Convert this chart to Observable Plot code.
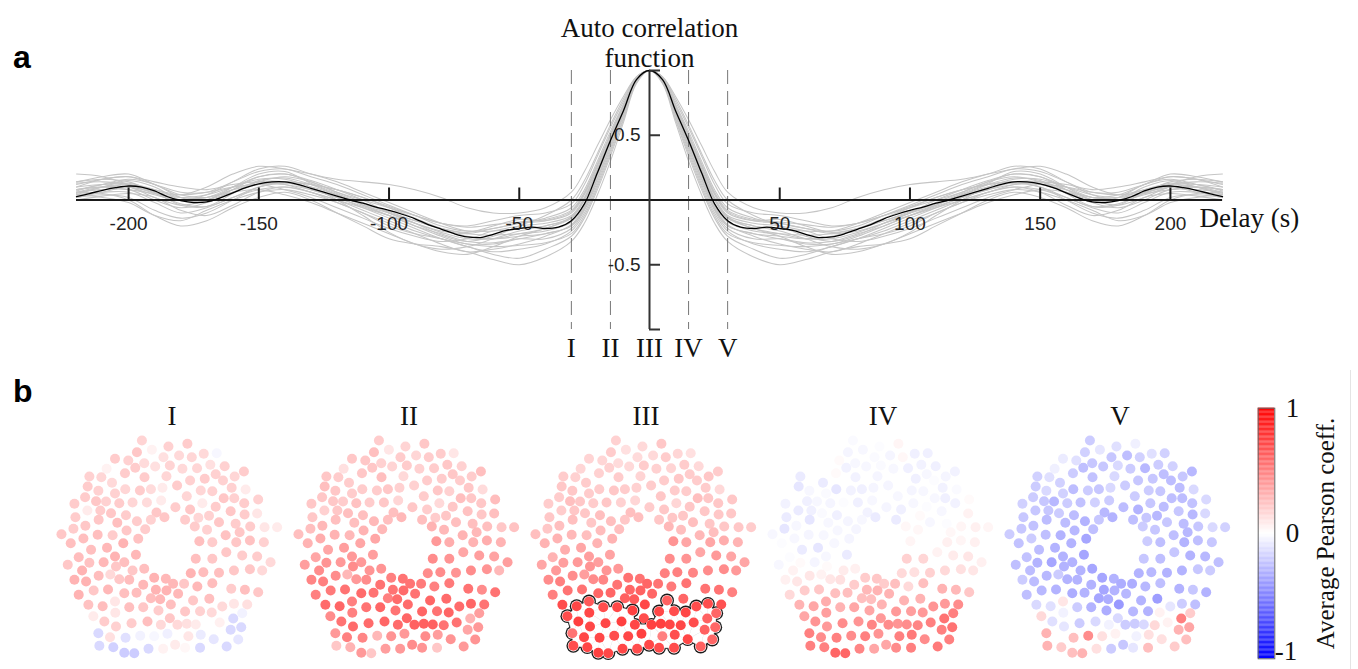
<!DOCTYPE html>
<html><head><meta charset="utf-8">
<script src="https://cdn.jsdelivr.net/npm/d3@7"></script>
<script src="https://cdn.jsdelivr.net/npm/@observablehq/plot@0.6"></script>
<style>
body{margin:0;background:#fff;}
#wrap{position:relative;width:1358px;height:669px;overflow:hidden;background:#fff;}
#wrap svg{position:absolute;}
.plab{position:absolute;font-family:"Liberation Sans",Arial,sans-serif;font-weight:bold;font-size:32px;line-height:1;color:#000;}
</style></head><body><div id="wrap"></div><script>
// ---------- Panel a data ----------
const meanLags = [0,5,10,15,20,25,30,35,40,45,50,55,60,65,70,75,80,85,90,95,100,105,110,115,120,125,130,135,140,145,150,155,160,165,170,175,180,185,190,195,200,205,210,215,220];
const meanACF = [1.0,0.93,0.69,0.46,0.21,-0.03,-0.16,-0.21,-0.22,-0.21,-0.22,-0.235,-0.265,-0.29,-0.285,-0.26,-0.225,-0.19,-0.145,-0.11,-0.08,-0.055,-0.025,0.0,0.03,0.06,0.09,0.12,0.14,0.14,0.125,0.095,0.055,0.015,-0.015,-0.02,-0.005,0.025,0.07,0.1,0.108,0.095,0.075,0.05,0.026];
const grayLags = [0,5,10,15,20,25,30,40,50,60,70,80,90,100,110,120,130,140,150,160,170,180,190,200,210,220];
const grayACF = [
 [1,.95,.78,.58,.36,.15,.0,-.12,-.2,-.28,-.32,-.27,-.18,-.1,-.02,.06,.14,.2,.18,.08,-.02,.02,.12,.16,.12,.08],
 [1,.92,.66,.4,.14,-.08,-.22,-.3,-.3,-.33,-.32,-.26,-.2,-.12,-.04,.04,.1,.13,.1,.02,-.05,-.03,.05,.1,.06,.02],
 [1,.94,.72,.5,.26,.04,-.1,-.16,-.15,-.2,-.25,-.22,-.16,-.09,-.03,.05,.13,.22,.2,.1,.0,.0,.1,.15,.1,.05],
 [1,.91,.62,.34,.08,-.14,-.28,-.38,-.45,-.42,-.36,-.3,-.26,-.2,-.1,-.02,.06,.1,.06,-.04,-.12,-.08,.02,.05,.03,.0],
 [1,.93,.7,.46,.22,.0,-.14,-.2,-.24,-.3,-.36,-.38,-.34,-.25,-.12,.0,.1,.16,.16,.1,.04,.02,.05,.08,.1,.08],
 [1,.94,.74,.53,.3,.08,-.06,-.14,-.18,-.22,-.24,-.2,-.12,-.04,.04,.12,.18,.24,.22,.14,.06,.06,.12,.18,.16,.12],
 [1,.92,.67,.42,.17,-.06,-.2,-.26,-.28,-.3,-.28,-.22,-.14,-.06,.02,.08,.12,.14,.1,.0,-.1,-.14,-.08,.02,.04,.02],
 [1,.93,.7,.47,.24,.02,-.12,-.18,-.2,-.24,-.3,-.32,-.28,-.22,-.14,-.06,.02,.08,.12,.1,.06,.04,.08,.12,.14,.13],
 [1,.95,.76,.56,.34,.12,-.03,-.1,-.12,-.16,-.2,-.18,-.12,-.06,.0,.06,.14,.18,.14,.06,-.02,-.06,.0,.08,.08,.06],
 [1,.92,.65,.38,.12,-.1,-.24,-.34,-.38,-.4,-.36,-.3,-.22,-.14,-.06,.02,.08,.12,.12,.06,.0,.0,.06,.1,.1,.08],
 [1,.93,.69,.45,.2,-.04,-.17,-.24,-.26,-.27,-.26,-.22,-.16,-.1,-.04,.04,.12,.17,.15,.05,-.05,-.04,.06,.12,.1,.04],
 [1,.94,.73,.51,.28,.06,-.08,-.15,-.17,-.19,-.21,-.18,-.12,-.05,.02,.08,.12,.14,.12,.08,.02,.04,.12,.2,.18,.14],
 [1,.91,.63,.36,.1,-.12,-.26,-.33,-.35,-.36,-.34,-.3,-.24,-.16,-.08,.0,.06,.1,.08,.02,-.06,-.1,-.02,.06,.06,.04],
 [1,.93,.71,.48,.24,.01,-.13,-.2,-.22,-.24,-.24,-.18,-.1,-.02,.06,.14,.2,.26,.24,.14,.04,.0,.06,.14,.16,.14],
 [1,.92,.68,.44,.19,-.05,-.19,-.28,-.34,-.38,-.4,-.34,-.26,-.18,-.1,-.02,.04,.08,.06,.0,-.08,-.16,-.12,-.02,.02,.04],
 [1,.94,.73,.5,.27,.05,-.09,-.16,-.18,-.22,-.26,-.24,-.18,-.12,-.06,.0,.06,.12,.14,.12,.08,.1,.14,.18,.16,.1],
 [1,.93,.7,.47,.23,.01,-.13,-.22,-.26,-.3,-.3,-.25,-.18,-.1,.0,.08,.15,.2,.18,.1,.02,.02,.08,.13,.12,.07],
 [1,.92,.67,.42,.16,-.07,-.2,-.26,-.3,-.34,-.34,-.28,-.2,-.12,-.05,.02,.08,.14,.14,.08,.0,-.04,.02,.1,.1,.06],
 [1,.95,.8,.62,.42,.22,.06,-.06,-.1,-.1,-.06,.02,.08,.12,.14,.16,.2,.24,.26,.2,.1,.04,.06,.12,.18,.2],
 [1,.9,.6,.3,.04,-.18,-.32,-.44,-.5,-.46,-.4,-.36,-.34,-.3,-.2,-.1,.0,.06,.02,-.06,-.16,-.2,-.12,.0,.05,.06],
 [1,.93,.7,.46,.22,.0,-.14,-.22,-.28,-.36,-.42,-.4,-.34,-.26,-.18,-.1,-.02,.04,.08,.06,.02,.0,.04,.1,.12,.1]
];
const xTicks = [-200,-150,-100,-50,50,100,150,200];
const yTickMarks = [1,0.5,-0.5,-1];
const yTickLabels = [0.5,-0.5];
const markerLags = [-30,-15,0,15,30];
const markerNames = ["I","II","III","IV","V"];
const titleA = "Auto correlation\nfunction";
const xLabel = "Delay (s)";

// ---------- Panel b data ----------
const panels = ["I","II","III","IV","V"];
const dotX = [92.7,138.3,119.3,102.7,87.7,65.7,79,114.3,130,142.7,
154.7,167.7,95,86,106,120.7,133.3,148,161.3,175.7,
57.3,75.7,117.3,95.3,40,52,155.7,166.7,185.7,195,
62.7,141,128,174,38.3,49,76,90.7,101.7,113.3,
151.7,163.3,182.7,196.7,65.7,35.7,46.7,56.7,70,83.3,
97.7,112,137.7,174.7,185.3,25,209.3,153.3,195.3,38,
51,61.7,76.7,107.3,126.3,141,166.7,181.7,195.7,208.3,
26,49.3,68,87.7,101.7,115.3,136,149.3,160,170,
186.7,12,24,36,48.3,63.3,77.3,96,145.7,158,
176.7,190.7,201.3,215.7,228.3,21.3,34,74,89,150.3,
163.3,187.3,201,215,41.7,57.7,65.7,86.7,29.3,18.3,
40,54.3,75,66.7,146.7,163.3,177.3,193.3,208.3,221.7,
32.7,49.3,61,83.3,95,70,80,141.7,154.3,170,
185,201,213.3,25,36.7,105,116.7,124,94,135,
148.3,163.3,182.3,196,209.3,29.3,44.3,58.7,75,87.3,
106.7,117.3,129,101.7,111,144,160.3,39,53.3,65.7,
80,94,109.3,121.7,136,151,162.7,173.3,185,198.3,
44,66,193.3,55,66.7,82.3,98.3,111.7,120.7,128.3,
137.7,146.7,157.7,170.7,184.3,49,60.7,76.3,91,105,
118.3,139.3,151.7,164.7,181.7,192.3,50,64,75,85,
99.3,114,126,136,151,177.7,189.3];
const dotY = [10,13.3,16,19.3,21.7,28.3,30,26.7,25,26.7,
23.3,22.7,32.7,37.3,36,35,38.3,37.7,34.3,35.7,
38.3,42.7,45.7,46.7,46,46.7,48.3,43.7,46,41,
52.3,50,55,50,56,60.3,58.7,60,58.7,57.3,
60,60.7,57.3,59,63,66.7,70.7,71,72.7,72,
72,70,65.7,67.7,67.7,73.3,69,72.7,72.7,80,
80,82.7,84.7,82,76.7,79,76.3,80.7,84,83,
86.7,89.3,92.3,90.7,89.3,86.7,89.3,87.3,85.3,91.7,
93.3,103.7,98.3,95.3,104.3,104.7,100,98.7,96,99.3,
104.7,101.7,96,96.7,96.7,112.7,108,112.7,108.3,110.7,
111.7,111.7,110,111.7,119.3,117.3,126,124.3,126.7,134.3,
132.3,131.7,131.7,136,128.3,128.3,121.7,125,126,131.7,
140,145.3,144,140,138.3,148.7,149.3,142.7,141.7,142.3,
140,138.7,140,149.3,151,147.3,148.3,153.3,154.3,153.3,
156,152.7,158.3,159.3,161.7,164.3,160,159,162.7,162.3,
159.3,160,163.3,167.7,168.7,170,168.3,174.3,175.7,171,
176.7,176.7,180,174,181,180.7,182,176,173.3,174,
185.7,182.3,182.7,191,196,192.7,191,194.3,187.7,194.3,
193.3,194,194.7,192,188,202.7,206.7,207.3,205.3,205.7,
203.3,205.7,204.3,208.7,199.3,196.7,215.3,216.7,222.3,222.7,
218.3,218.3,214.3,217.3,217.3,216,209];
const valsI = [.17,.2,.18,.05,.22,.2,.18,.12,.15,.16,
.15,-.03,.14,.2,.12,.17,.15,.16,.12,.18,
.05,.2,.16,.2,.18,.16,.2,.18,.16,.2,
.15,.18,.2,.18,.2,.18,.16,.2,.14,.08,
.16,.18,.18,.08,.18,.2,.22,.18,.2,.16,
.14,.08,.16,.22,.18,.2,.18,.08,.2,.08,
.2,.22,.2,.22,.2,.22,.2,.22,.2,.1,
.2,.22,.25,.2,.18,.22,.2,.16,.18,.22,
.2,.22,.2,.22,.25,.2,.22,.2,.2,.18,
.24,.22,.2,.1,.08,.25,.25,.3,.24,.25,
.2,.22,.24,.18,.25,.28,.3,.28,.26,.22,
.24,.28,.25,.22,.25,.22,.22,.2,.2,.15,
.3,.26,.15,.22,.25,.22,.26,.3,.26,.25,
.22,.22,.15,.3,.3,.3,.28,.28,.28,.22,
.28,.26,.2,.25,.22,.3,.22,.28,.25,.26,
.3,.3,.28,.26,.28,.22,.25,.24,.26,.1,
.25,.22,.2,.25,.22,.18,.15,.15,.1,.12,
.08,.1,-.05,.2,.18,.2,.25,.15,.22,.15,
.12,.08,.0,.06,-.15,-.15,.12,-.12,-.05,-.03,
-.06,.1,-.08,-.1,-.15,-.15,-.15,-.18,-.2,-.2,
-.15,.05,.08,.03,-.15,-.15,-.1];
const valsII = [.2,.22,.17,.1,.25,.22,.22,.2,.16,.2,
.2,.1,.18,.22,.17,.2,.18,.2,.22,.18,
.12,.22,.15,.25,.22,.2,.2,.22,.2,.25,
.2,.2,.18,.2,.25,.22,.2,.2,.22,.18,
.22,.18,.22,.14,.2,.22,.22,.2,.24,.2,
.22,.16,.2,.25,.22,.22,.26,.15,.22,.18,
.22,.25,.25,.25,.22,.2,.22,.24,.22,.25,
.22,.25,.25,.28,.25,.28,.25,.2,.22,.25,
.25,.25,.25,.28,.3,.28,.3,.28,.3,.28,
.3,.28,.25,.22,.24,.3,.32,.35,.35,.4,
.32,.3,.32,.3,.35,.38,.4,.38,.35,.38,
.42,.4,.4,.45,.45,.42,.35,.38,.36,.38,
.45,.45,.28,.42,.42,.4,.45,.45,.45,.42,
.45,.42,.28,.48,.5,.5,.55,.55,.55,.52,
.5,.52,.55,.45,.55,.5,.52,.55,.58,.55,
.55,.58,.55,.5,.58,.6,.58,.58,.6,.5,
.55,.6,.55,.58,.6,.55,.6,.58,.6,.55,
.45,.5,.38,.55,.58,.58,.6,.58,.6,.62,
.62,.62,.55,.55,.3,.4,.5,.48,.28,.42,
.4,.45,.38,.42,.35,.4,.22,.3,.4,.22,
.38,.4,.45,.42,.22,.4,.42];
const valsIII = [.18,.22,.15,.12,.2,.17,.16,.14,.15,.2,
.16,.12,.14,.18,.15,.2,.18,.17,.2,.15,
.16,.18,.17,.2,.2,.18,.22,.2,.22,.2,
.2,.2,.2,.2,.22,.22,.2,.22,.2,.18,
.2,.2,.2,.15,.2,.2,.25,.22,.2,.22,
.18,.16,.22,.25,.22,.2,.22,.16,.22,.2,
.22,.22,.25,.25,.2,.22,.22,.22,.22,.22,
.22,.25,.22,.25,.22,.25,.22,.22,.22,.25,
.22,.25,.22,.25,.28,.25,.26,.25,.28,.25,
.28,.25,.22,.22,.2,.3,.3,.3,.3,.42,
.35,.35,.32,.3,.32,.35,.38,.36,.3,.35,
.38,.4,.38,.42,.45,.42,.35,.4,.35,.35,
.4,.45,.38,.42,.4,.45,.48,.5,.5,.48,
.45,.45,.4,.45,.5,.55,.55,.6,.55,.55,
.52,.55,.55,.55,.5,.5,.55,.55,.6,.6,
.6,.62,.6,.62,.65,.62,.6,.7,.72,.65,
.7,.72,.75,.72,.72,.7,.72,.7,.7,.68,
.7,.72,.6,.75,.72,.72,.75,.72,.7,.75,
.75,.72,.72,.7,.62,.55,.72,.72,.7,.72,
.75,.5,.7,.72,.62,.6,.7,.72,.75,.72,
.72,.7,.72,.7,.7,.62,.6];
const valsIV = [-.02,.04,-.01,-.03,-.04,.0,.02,-.02,-.04,.03,
-.06,-.06,-.03,-.05,-.03,-.02,-.03,-.06,-.05,-.06,
.0,.02,-.04,-.05,-.08,.0,-.06,-.03,-.04,-.05,
-.08,.0,-.04,-.01,-.1,-.03,-.1,-.05,-.06,-.04,
-.04,-.03,-.05,-.02,-.02,.0,-.06,-.03,-.04,-.01,
-.06,-.03,-.03,-.03,-.06,-.05,.02,-.03,-.05,-.08,
-.06,-.02,-.06,-.05,-.04,-.06,-.01,-.03,.0,.05,
-.08,-.1,-.03,-.04,-.03,-.08,-.08,.0,.02,-.03,
-.01,-.03,-.1,-.03,-.04,-.03,-.03,-.04,.03,.03,
.0,.03,.04,.06,.04,-.01,-.03,-.03,-.04,.04,
.0,.06,.04,.06,-.08,-.1,-.03,-.08,-.01,-.03,
.02,-.04,.0,.02,.18,.16,.05,.08,.1,.06,
.05,.1,.05,.08,.06,.1,.12,.15,.12,.18,
.15,.12,.1,.06,.1,.2,.22,.2,.2,.25,
.15,.25,.3,.28,.22,.15,.2,.22,.25,.25,
.28,.3,.3,.25,.25,.3,.3,.3,.35,.32,
.3,.35,.35,.3,.4,.38,.4,.42,.4,.45,
.35,.38,.5,.42,.4,.45,.42,.48,.4,.45,
.42,.45,.48,.5,.55,.5,.45,.5,.45,.5,
.42,.5,.52,.45,.5,.55,.5,.5,.6,.6,
.48,.35,.35,.45,.5,.52,.5];
const valsV = [-.2,-.06,-.12,-.1,-.18,-.08,-.12,-.22,-.25,-.18,
-.12,-.18,-.22,-.25,-.22,-.15,-.2,-.28,-.2,-.18,
-.06,-.2,-.15,-.24,-.18,-.12,-.22,-.25,-.22,-.28,
-.18,-.22,-.2,-.26,-.2,-.15,-.26,-.2,-.22,-.15,
-.2,-.22,-.26,-.15,-.18,-.2,-.22,-.28,-.2,-.24,
-.18,-.2,-.2,-.25,-.26,-.18,-.15,-.22,-.24,-.22,
-.22,-.2,-.26,-.28,-.26,-.3,-.26,-.22,-.28,-.15,
-.22,-.26,-.26,-.3,-.22,-.3,-.25,-.22,-.28,-.22,
-.26,-.2,-.22,-.24,-.25,-.3,-.28,-.25,-.2,-.22,
-.25,-.28,-.22,-.15,-.18,-.24,-.2,-.3,-.35,-.2,
-.25,-.3,-.25,-.22,-.26,-.3,-.3,-.35,-.24,-.25,
-.3,-.35,-.3,-.3,-.22,-.25,-.22,-.3,-.28,-.25,
-.26,-.28,-.2,-.3,-.35,-.3,-.3,-.3,-.28,-.3,
-.3,-.22,-.2,-.2,-.26,-.35,-.3,-.32,-.3,-.32,
-.28,-.25,-.3,-.22,-.3,-.25,-.28,-.3,-.32,-.3,
-.35,-.3,-.28,-.35,-.32,-.3,-.38,-.15,-.12,.1,
-.2,-.3,-.32,-.4,-.28,-.3,.05,-.1,-.2,-.25,
.15,-.05,.2,-.12,-.1,-.2,-.15,-.05,-.15,-.2,
-.2,-.15,.15,.05,.5,.3,.0,.25,.45,.12,
.05,-.05,.12,.12,.3,.35,.3,.2,.25,.3,
.12,-.2,-.22,-.1,.25,.2,.25];
const clusterIds = [156,159,160,161,162,163,165,166,167,168,169,171,172,173,174,175,176,177,178,180,181,182,183,184,185,186,187,188,189,190,191,192,193,194,195,196,197,198,199,200,201,202,203,204,205,206,207];
const clusterPanel = "III";
const colorbarTicks = [1,0];
const colorbarLow = [-1];
const colorbarLabel = "Average Pearson coeff.";

// ---------- build ----------
const wrap = document.getElementById("wrap");
const serif = {fontFamily: "'Liberation Serif','Times New Roman',serif", fontSize: 27, fill: "#111"};
const sans = {fontFamily: "'Liberation Sans',Arial,sans-serif", fontSize: 19, fill: "#222"};

function mirrorRows(lags, vals, id) {
  const out = [];
  for (let i = lags.length - 1; i > 0; i--) out.push({id, lag: -lags[i], v: vals[i]});
  for (let i = 0; i < lags.length; i++) out.push({id, lag: lags[i], v: vals[i]});
  return out;
}
const grayRows = grayACF.flatMap((vals, k) => mirrorRows(grayLags, vals, k));
const meanRows = mirrorRows(meanLags, meanACF, "mean");

const tickLenY = 12 / 129.5;
const tickLenX = 11 / 2.6045;

const pa = Plot.plot({
  width: 1358, height: 370,
  marginLeft: 76, marginRight: 136, marginTop: 70, marginBottom: 41,
  x: {domain: [-220, 220], axis: null},
  y: {domain: [-1, 1], axis: null},
  style: {background: "transparent", overflow: "visible"},
  marks: [
    Plot.line(grayRows, {x: "lag", y: "v", z: "id", stroke: "#c5c5c5", strokeWidth: 1.05, curve: "catmull-rom"}),
    Plot.ruleX(markerLags, {stroke: "#777", strokeDasharray: "14,7", strokeWidth: 1}),
    Plot.ruleY([0], {stroke: "#1a1a1a", strokeWidth: 2}),
    Plot.ruleX([0], {stroke: "#333", strokeWidth: 2}),
    Plot.line(meanRows, {x: "lag", y: "v", stroke: "#000", strokeWidth: 1.3, curve: "catmull-rom"}),
    Plot.ruleX(xTicks, {y1: 0, y2: tickLenY, stroke: "#1a1a1a", strokeWidth: 2}),
    Plot.ruleY(yTickMarks, {x1: 0, x2: tickLenX, stroke: "#333", strokeWidth: 2}),
    Plot.text(xTicks, {x: d => d, y: 0, dy: 24, text: d => String(d), ...sans}),
    Plot.text(yTickLabels, {x: 0, y: d => d, dx: -9, textAnchor: "end", text: d => String(d), ...sans}),
    Plot.text(markerLags, {x: d => d, y: -1, dy: 19, text: (d, i) => markerNames[i], ...serif}),
    Plot.text([titleA], {x: 0, y: 1, dy: -28, lineHeight: 1.12, text: d => d, ...serif}),
    Plot.text([xLabel], {x: 220, y: 0, dx: -23, dy: 18, textAnchor: "start", text: d => d, ...serif})
  ]
});
pa.style.left = "0px"; pa.style.top = "0px";
wrap.appendChild(pa);

const colorScale = {type: "linear", domain: [-1, 0, 1], range: ["#0000ff", "#ffffff", "#ff0000"]};
const vals = [valsI, valsII, valsIII, valsIV, valsV];
const dotRows = panels.flatMap((p, k) => dotX.map((x, i) => ({panel: p, x, y: dotY[i], v: vals[k][i]})));
const clusterRows = clusterIds.map(id => ({panel: clusterPanel, x: dotX[id - 1], y: dotY[id - 1]}));

// outline of the selected cluster: union of dots and short-edged Delaunay triangles
const cpts = clusterRows.map(d => [d.x, d.y]);
const del = d3.Delaunay.from(cpts);
const dist = (a, b) => Math.hypot(a[0] - b[0], a[1] - b[1]);
const triRows = [];
for (let t = 0; t < del.triangles.length / 3; t++) {
  const P = [0, 1, 2].map(j => cpts[del.triangles[3 * t + j]]);
  if (Math.max(dist(P[0], P[1]), dist(P[1], P[2]), dist(P[2], P[0])) < 21)
    P.forEach(p => triRows.push({panel: clusterPanel, tri: t, x: p[0], y: p[1]}));
}

const pb = Plot.plot({
  width: 1358, height: 299,
  marginLeft: 47, marginRight: 122.5, marginTop: 60, marginBottom: 9,
  fx: {domain: panels, padding: 0, axis: null},
  x: {domain: [0, 237.7], axis: null},
  y: {domain: [0, 230], reverse: true, axis: null},
  color: colorScale,
  style: {background: "transparent", overflow: "visible"},
  marks: [
    Plot.hull(triRows, {fx: "panel", x: "x", y: "y", z: "tri", fill: "#1a1a1a", stroke: "#1a1a1a", strokeWidth: 2.6, strokeLinejoin: "round"}),
    Plot.dot(clusterRows, {fx: "panel", x: "x", y: "y", r: 6.9, fill: "#1a1a1a"}),
    Plot.hull(triRows, {fx: "panel", x: "x", y: "y", z: "tri", fill: "#fff", stroke: "#fff", strokeWidth: 0.6}),
    Plot.dot(clusterRows, {fx: "panel", x: "x", y: "y", r: 5.6, fill: "#fff"}),
    Plot.dot(dotRows, {fx: "panel", x: "x", y: "y", r: 5, fill: "v"}),
    Plot.text(panels, {fx: d => d, text: d => d, frameAnchor: "top", dy: -25, dx: 4, ...serif})
  ]
});
pb.style.left = "0px"; pb.style.top = "370px";
wrap.appendChild(pb);

const cbSteps = d3.range(-1, 1, 0.01);
const cb = Plot.plot({
  width: 113, height: 274,
  marginLeft: 12.7, marginRight: 83.7, marginTop: 12.7, marginBottom: 10.7,
  x: {domain: [0, 1], axis: null},
  y: {domain: [-1, 1], axis: null},
  color: colorScale,
  style: {background: "transparent", overflow: "visible"},
  marks: [
    Plot.rect(cbSteps, {x1: 0, x2: 1, y1: d => d, y2: d => d + 0.0105, fill: d => d + 0.005}),
    Plot.frame({stroke: "#666", strokeWidth: 1}),
    Plot.text(colorbarTicks, {x: 1, y: d => d, dx: 11, textAnchor: "start", text: d => String(d), ...serif}),
    Plot.text(colorbarLow, {x: 1, y: d => d, dx: 0, dy: -7, textAnchor: "start", text: d => "-" + String(-d), ...serif}),
    Plot.text([colorbarLabel], {frameAnchor: "right", rotate: -90, dx: 51, textAnchor: "middle", text: d => d, ...serif, fontSize: 25})
  ]
});
cb.style.left = "1245px"; cb.style.top = "395px";
wrap.appendChild(cb);

const la = document.createElement("div"); la.className = "plab"; la.textContent = "a";
la.style.left = "13px"; la.style.top = "41px"; wrap.appendChild(la);
const lb = document.createElement("div"); lb.className = "plab"; lb.textContent = "b";
lb.style.left = "13px"; lb.style.top = "375px"; wrap.appendChild(lb);
const border = document.createElement("div");
border.style.cssText = "position:absolute;left:1350px;top:370px;width:1px;height:299px;background:#e4e4e4;";
wrap.appendChild(border);
</script></body></html>
